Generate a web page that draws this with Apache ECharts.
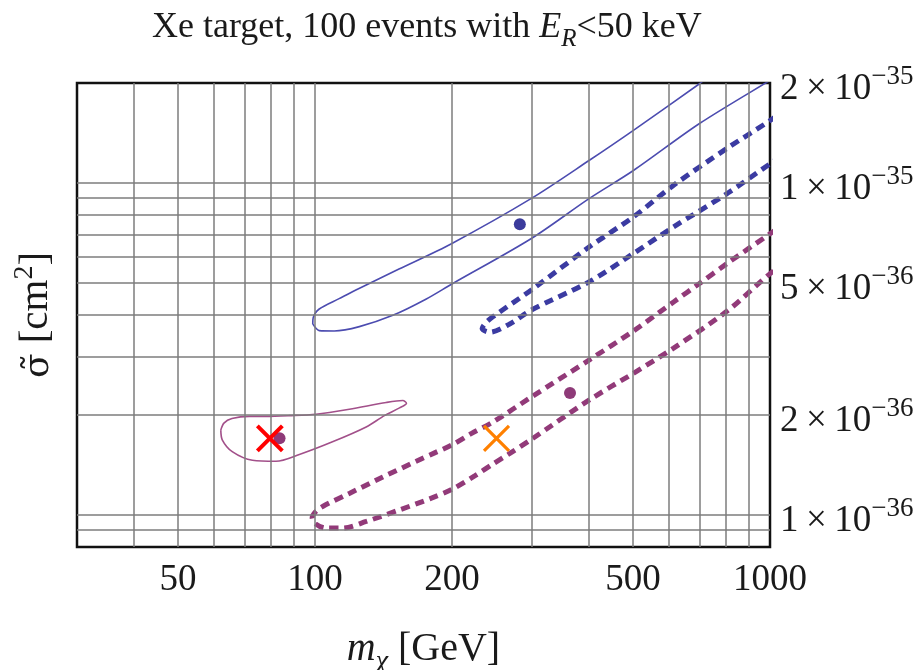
<!DOCTYPE html>
<html>
<head>
<meta charset="utf-8">
<title>Xe target, 100 events</title>
<script src="https://cdn.jsdelivr.net/npm/echarts@6/dist/echarts.min.js"></script>
<style>
  html, body { margin: 0; padding: 0; background: #fff; }
  #chart { width: 920px; height: 670px; }
</style>
</head>
<body>
<div id="chart"></div>
<script>
  'use strict'

  /*----- data: mass in GeV, cross section in units of 1e-36 cm^2 -----*/
  var xGrid = [40, 50, 60, 70, 80, 90, 100, 200, 300, 400, 500, 600, 700, 800, 900];
  var xTicks = [50, 100, 200, 500, 1000];
  var yGrid = [0.9, 1, 2, 3, 4, 5, 6, 7, 8, 9, 10];
  var yTicks = [1, 2, 5, 10, 20];

  var blueSolid = [
    [98.9, 3.76], [99.1, 3.92], [102.2, 4.17], [113, 4.48], [125, 4.81], [153, 5.50],
    [200, 6.57], [299, 8.98], [401, 11.7], [501, 14.4], [700, 19.9], [861, 24.4],
    [1167, 23.1], [1002, 20.4], [700, 15.1], [501, 10.9], [401, 8.98], [299, 6.80],
    [200, 4.96], [175.7, 4.47], [148.3, 3.99], [125.2, 3.69], [110.3, 3.58], [102.2, 3.59], [98.9, 3.76]
  ];
  var blueDashed = [
    [1167, 17.98], [1002, 15.44], [805, 12.72], [614, 9.84], [501, 7.90], [401, 6.42],
    [299, 4.76], [246, 3.95], [237, 3.78], [233, 3.64], [242, 3.55], [268, 3.76],
    [299, 4.14], [401, 5.04], [501, 6.13], [614, 7.37], [805, 9.29], [1002, 11.44], [1167, 13.17]
  ];
  var purpleDashed = [
    [1167, 8.13], [1002, 7.04], [805, 5.72], [700, 4.98], [614, 4.38], [501, 3.58],
    [401, 2.93], [299, 2.265], [246.3, 1.905], [221, 1.759], [200, 1.624], [183.2, 1.537],
    [167, 1.45], [141, 1.30], [119, 1.16], [104, 1.06], [100.2, 1.02], [98.6, 0.98],
    [100.2, 0.94], [105.7, 0.912], [115, 0.912], [129.6, 0.955], [153.4, 1.035],
    [178.6, 1.117], [200, 1.193], [224.4, 1.31], [246.3, 1.424], [268.1, 1.531],
    [299, 1.688], [401, 2.22], [501, 2.67], [614, 3.18], [805, 4.11], [1002, 5.34], [1167, 6.19]
  ];
  var purpleSolid = [
    [62.1, 1.80], [63.1, 1.89], [65.7, 1.95], [71.7, 1.98], [78, 1.98], [87.8, 1.99],
    [100.5, 2.01], [119, 2.08], [143.4, 2.18], [156, 2.21], [158.9, 2.17], [153.4, 2.10],
    [142.1, 1.99], [129.6, 1.84], [109.3, 1.66], [92.4, 1.52], [82.1, 1.45], [72.9, 1.46],
    [65.8, 1.55], [62.6, 1.68], [62.1, 1.80]
  ];
  var blueBest = [[282, 7.51]];
  var purpleBest = [[363.5, 2.33], [83.6, 1.70]];
  var redCross = [[79.6, 1.70]];
  var orangeCross = [[250.6, 1.70]];

  var serif = 'Liberation Serif';
  var ink = '#1a1a1a';

  function sciLabel(v) {
    var e = Math.floor(Math.log10(v) + 1e-9);
    var m = Math.round(v / Math.pow(10, e));
    return '{b|' + m + '\u2009\u00d7\u200910}{s|\u2212' + (36 - e) + '}';
  }

  var gridLines = xGrid.map(function (v) { return { xAxis: v }; })
    .concat(yGrid.map(function (v) { return { yAxis: v }; }));

  var tickLabels = xTicks.map(function (v) {
    return {
      xAxis: v,
      label: { show: true, position: 'start', distance: 15, formatter: String(v),
        fontFamily: serif, fontSize: 37, color: ink }
    };
  }).concat(yTicks.map(function (v) {
    return {
      yAxis: v,
      label: { show: true, position: 'end', distance: 10, formatter: sciLabel(v),
        color: ink,
        rich: {
          b: { fontFamily: serif, fontSize: 37, color: ink, verticalAlign: 'bottom', padding: [12, 0, 0, 0] },
          s: { fontFamily: serif, fontSize: 27, color: ink, verticalAlign: 'bottom', padding: [0, 0, 17, 0] }
        } }
    };
  }));

  var chart = echarts.init(document.getElementById('chart'));

  var option = {
    animation: false,
    title: {
      text: '{a|Xe target, 100 events with }{i|E}{s|R}{a|<50 keV}',
      left: 152,
      top: 10,
      padding: 0,
      textStyle: {
        fontFamily: serif, fontSize: 36, fontWeight: 'normal', color: ink,
        rich: {
          a: { fontFamily: serif, fontSize: 36, color: ink, verticalAlign: 'bottom', padding: [0, 0, 6, 0] },
          i: { fontFamily: serif, fontSize: 36, fontStyle: 'italic', color: ink, verticalAlign: 'bottom', padding: [0, 0, 6, 0] },
          s: { fontFamily: serif, fontSize: 25, fontStyle: 'italic', color: ink, verticalAlign: 'bottom' }
        }
      }
    },
    grid: {
      left: 77, right: 150, top: 83, bottom: 123,
      containLabel: false, outerBoundsMode: 'none',
      show: true, borderColor: '#111', borderWidth: 2.5, backgroundColor: 'transparent'
    },
    xAxis: {
      type: 'log', logBase: 10, min: 30, max: 1000,
      name: '{i|m}{s|\u03c7}{a| [GeV]}',
      nameLocation: 'middle', nameGap: 82,
      nameTextStyle: {
        fontFamily: serif, fontSize: 40, color: ink,
        rich: {
          i: { fontFamily: serif, fontSize: 40, fontStyle: 'italic', color: ink, verticalAlign: 'bottom', padding: [0, 0, 7, 0] },
          s: { fontFamily: serif, fontSize: 28, fontStyle: 'italic', color: ink, verticalAlign: 'bottom' },
          a: { fontFamily: serif, fontSize: 40, color: ink, verticalAlign: 'bottom', padding: [0, 0, 7, 0] }
        }
      },
      axisLine: { show: false }, axisTick: { show: false },
      axisLabel: { show: false }, splitLine: { show: false }
    },
    yAxis: {
      type: 'log', logBase: 10, min: 0.8, max: 20, position: 'left',
      name: '{g|\u03c3\u0303}{a| [cm}{s|2}{a|]}',
      nameLocation: 'middle', nameRotate: 90, nameGap: 20,
      nameTextStyle: {
        fontFamily: serif, fontSize: 41, color: ink,
        rich: {
          g: { fontFamily: 'DejaVu Serif', fontSize: 36, color: ink, verticalAlign: 'bottom' },
          a: { fontFamily: serif, fontSize: 41, color: ink, verticalAlign: 'bottom' },
          s: { fontFamily: serif, fontSize: 28, color: ink, verticalAlign: 'bottom', padding: [0, 0, 18, 0] }
        }
      },
      axisLine: { show: false }, axisTick: { show: false },
      axisLabel: { show: false }, splitLine: { show: false }
    },
    series: [
      {
        name: 'grid', type: 'line', data: [], z: 1, silent: true,
        markLine: {
          silent: true, symbol: ['none', 'none'], animation: false,
          label: { show: false },
          lineStyle: { color: '#7c7c7c', width: 1.5, type: 'solid' },
          emphasis: { disabled: true },
          data: gridLines
        }
      },
      {
        name: 'ticks', type: 'line', data: [], z: 1, silent: true,
        markLine: {
          silent: true, symbol: ['none', 'none'], animation: false,
          lineStyle: { color: 'rgba(0,0,0,0)', width: 0 },
          emphasis: { disabled: true },
          data: tickLabels
        }
      },
      {
        name: 'blue solid', type: 'line', data: blueSolid, z: 3, smooth: 0.3,
        symbol: 'none', lineStyle: { color: '#4c4cb0', width: 1.6 }
      },
      {
        name: 'blue dashed', type: 'line', data: blueDashed, z: 3, smooth: 0.3,
        symbol: 'none', lineStyle: { color: '#3b3ba2', width: 5, type: [9, 6] }
      },
      {
        name: 'purple dashed', type: 'line', data: purpleDashed, z: 3, smooth: 0.3,
        symbol: 'none', lineStyle: { color: '#923a79', width: 5, type: [9, 6] }
      },
      {
        name: 'purple solid', type: 'line', data: purpleSolid, z: 3, smooth: 0.3,
        symbol: 'none', lineStyle: { color: '#a2508a', width: 1.6 }
      },
      {
        name: 'blue best', type: 'scatter', data: blueBest, z: 4,
        symbolSize: 12, itemStyle: { color: '#3b3b9c', opacity: 1 }
      },
      {
        name: 'purple best', type: 'scatter', data: purpleBest, z: 4,
        symbolSize: 12, itemStyle: { color: '#8e3a78', opacity: 1 }
      },
      {
        name: 'true point', type: 'scatter', data: redCross, z: 5,
        symbol: 'path://M0,0L10,10M10,0L0,10', symbolSize: 25,
        itemStyle: { color: 'rgba(0,0,0,0)', borderColor: '#ff0000', borderWidth: 4, opacity: 1 }
      },
      {
        name: 'other point', type: 'scatter', data: orangeCross, z: 5,
        symbol: 'path://M0,0L10,10M10,0L0,10', symbolSize: 25,
        itemStyle: { color: 'rgba(0,0,0,0)', borderColor: '#ff8000', borderWidth: 3.2, opacity: 1 }
      }
    ]
  };

  chart.setOption(option);
</script>
</body>
</html>
